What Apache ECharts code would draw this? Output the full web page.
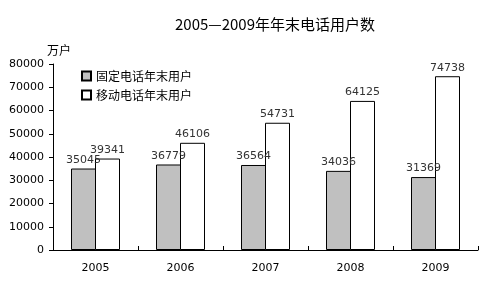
<!DOCTYPE html>
<html><head><meta charset="utf-8">
<script src="https://cdn.jsdelivr.net/npm/echarts@6/dist/echarts.min.js"></script>
<style>html,body{margin:0;padding:0;background:#fff}#c{width:503px;height:288px}</style>
</head><body><div id="c"></div>
<script>
const categories = ['2005','2006','2007','2008','2009'];
const fixedUsers = [35045, 36779, 36564, 34036, 31369];
const mobileUsers = [39341, 46106, 54731, 64125, 74738];
const seriesNames = ['固定电话年末用户','移动电话年末用户'];
const chart = echarts.init(document.getElementById('c'));
const font = '"Noto Sans CJK SC","DejaVu Sans",sans-serif';
const numFont = '"DejaVu Sans",sans-serif';
chart.setOption({
  animation:false,
  backgroundColor:'#fff',
  title:{text:'2005—2009年年末电话用户数',left:270,top:12,textAlign:'center',
    textStyle:{fontSize:15,fontWeight:'normal',color:'#000',fontFamily:font}},
  legend:{orient:'vertical',left:76,top:65,itemWidth:9,itemHeight:9,itemGap:7,
    textStyle:{fontSize:12,color:'#000',fontFamily:font},
    data:[{name:seriesNames[0],icon:'rect'},{name:seriesNames[1],icon:'rect'}]},
  grid:{left:53,right:25,top:64,bottom:38},
  xAxis:{type:'category',data:categories,
    axisLine:{lineStyle:{color:'#000',width:1}},
    axisTick:{show:true,inside:true,length:4,lineStyle:{color:'#000'}},
    axisLabel:{color:'#000',fontSize:11,margin:13,fontFamily:numFont}},
  yAxis:{type:'value',min:0,max:80000,interval:10000,name:'万户',
    nameLocation:'end',nameGap:8,nameTextStyle:{color:'#000',fontSize:12,fontFamily:font,align:'left',padding:[0,0,0,-6]},
    axisLine:{show:true,lineStyle:{color:'#000',width:1}},
    axisTick:{show:true,length:4,lineStyle:{color:'#000'}},
    splitLine:{show:false},
    axisLabel:{color:'#000',fontSize:11,margin:9,fontFamily:numFont,formatter:v=>String(v)}},
  series:[
    {name:seriesNames[0],type:'bar',data:fixedUsers,barWidth:25,barGap:'-4%',
     itemStyle:{color:'#c0c0c0',borderColor:'#000',borderWidth:1},
     label:{show:true,position:'top',distance:3,color:'#333',fontSize:11,fontFamily:numFont}},
    {name:seriesNames[1],type:'bar',data:mobileUsers,barWidth:25,barGap:'-4%',
     itemStyle:{color:'#fff',borderColor:'#000',borderWidth:1},
     label:{show:true,position:'top',distance:3,color:'#333',fontSize:11,fontFamily:numFont}}
  ]
});
</script></body></html>
